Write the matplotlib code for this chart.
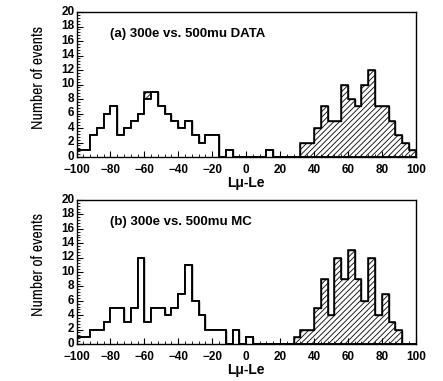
import numpy as np
import matplotlib
matplotlib.use("Agg")
import matplotlib.pyplot as plt
import matplotlib.transforms as mtransforms
from matplotlib.ticker import MultipleLocator
from matplotlib import font_manager

names = sorted({f.name for f in font_manager.fontManager.ttflist})
narrow = [n for n in names if 'Narrow' in n or 'Condensed' in n]

plt.rcParams['font.family'] = ['Liberation Sans', 'DejaVu Sans']
plt.rcParams['hatch.linewidth'] = 0.6

bin_edges = np.arange(-100, 101, 4)

# Panel (a) DATA
open_a = [1, 1, 3, 4, 6, 7, 3, 4, 5, 6,
          8, 9, 7, 6, 5, 4, 5, 3, 2, 3,
          3, 0, 1, 0, 0, 0, 0, 0, 1, 0,
          0, 0, 0, 0, 0, 0, 0, 0, 0, 0,
          0, 0, 0, 0, 0, 0, 0, 0, 0, 0]
hatch_a = [0, 0, 0, 0, 0, 0, 0, 0, 0, 0,
           1, 0, 0, 0, 0, 0, 0, 0, 0, 0,
           0, 0, 0, 0, 0, 0, 0, 0, 0, 0,
           0, 0, 0, 2, 2, 4, 7, 5, 5, 10,
           8, 7, 10, 12, 7, 7, 5, 3, 2, 1]

# Panel (b) MC
open_b = [1, 1, 2, 2, 3, 5, 5, 3, 5, 12,
          3, 5, 5, 4, 5, 7, 11, 6, 4, 2,
          2, 2, 0, 2, 0, 1, 0, 0, 0, 0,
          0, 0, 0, 0, 0, 0, 0, 0, 0, 0,
          0, 0, 0, 0, 0, 0, 0, 0, 0, 0]
hatch_b = [0, 0, 0, 0, 0, 0, 0, 0, 0, 0,
           0, 0, 0, 0, 0, 0, 0, 0, 0, 0,
           0, 0, 0, 0, 0, 0, 0, 0, 0, 0,
           0, 0, 1, 2, 2, 5, 9, 4, 12, 9,
           13, 9, 6, 12, 4, 7, 3, 2, 0, 0]

titles = ["(a) 300e vs. 500mu DATA", "(b) 300e vs. 500mu MC"]
xlabel = "L\u03bc-Le"
ylabel = "Number of events"

cond = 'Liberation Sans Narrow' if 'Liberation Sans Narrow' in narrow else (narrow[0] if narrow else 'Liberation Sans')

fig = plt.figure(figsize=(4.43, 3.81), dpi=100)
W, H = 443, 381
left, right = 76.5, 415.7
panels = [(12, 157), (200, 344)]
yshift = mtransforms.ScaledTranslation(0, 1.2 / 72, fig.dpi_scale_trans)

for (top, bot), op, ht, title in zip(panels, [open_a, open_b], [hatch_a, hatch_b], titles):
    ax = fig.add_axes([left / W, 1 - bot / H, (right - left) / W, (bot - top) / H])
    op = np.array(op)
    ht = np.array(ht)
    ax.stairs(op + ht, bin_edges, fill=True, facecolor='white', edgecolor='black',
              hatch='//////', linewidth=1.0)
    ax.stairs(op + ht, bin_edges, fill=False, edgecolor='black', linewidth=1.1)
    ax.stairs(op, bin_edges, fill=True, facecolor='white', edgecolor='black', linewidth=1.1)
    ax.stairs(op, bin_edges, fill=False, edgecolor='black', linewidth=1.1)
    ax.set_xlim(-100, 100)
    ax.set_ylim(0, 20)
    ax.xaxis.set_major_locator(MultipleLocator(20))
    ax.xaxis.set_minor_locator(MultipleLocator(4))
    ax.yaxis.set_major_locator(MultipleLocator(2))
    ax.yaxis.set_minor_locator(MultipleLocator(0.4))
    ax.tick_params(which='both', direction='in', top=False, right=False)
    ax.tick_params(which='major', length=4, width=0.8, labelsize=8.5)
    ax.tick_params(axis='x', which='major', pad=5)
    ax.tick_params(axis='y', which='major', pad=1.5)
    ax.tick_params(which='minor', length=2, width=0.6)
    for lab in ax.get_xticklabels() + ax.get_yticklabels():
        lab.set_fontweight('bold')
    for lab in ax.get_yticklabels():
        lab.set_transform(lab.get_transform() + yshift)
    for sp in ax.spines.values():
        sp.set_linewidth(1.0)
    ax.set_xlabel(xlabel, fontsize=10, fontweight='bold', labelpad=0)
    ax.set_ylabel(ylabel, fontsize=11.5, fontweight='bold', family=[cond, 'DejaVu Sans'])
    ax.yaxis.set_label_coords(-0.09, 0.55)
    ax.text(-80, 16.9, title, fontsize=9.5, fontweight='bold', va='center', ha='left')

fig.savefig("out.png", dpi=100)
